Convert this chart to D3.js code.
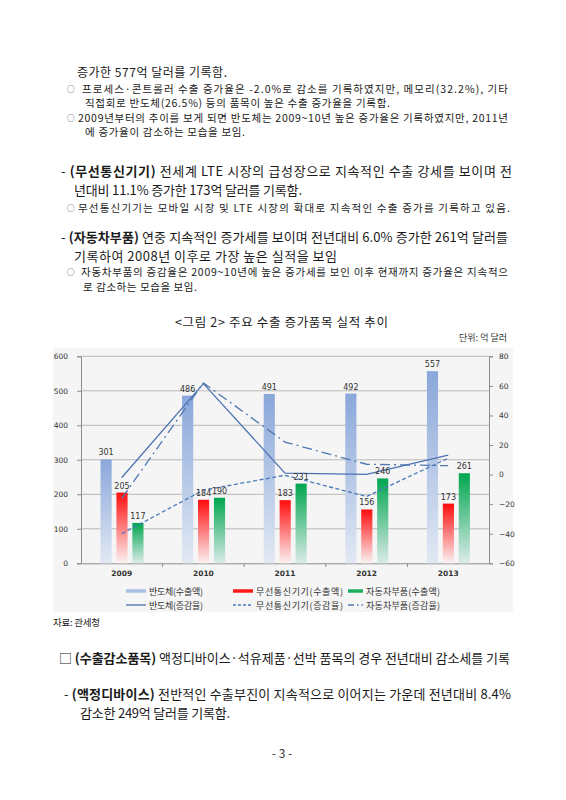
<!DOCTYPE html>
<html>
<head>
<meta charset="utf-8">
<script src="https://cdn.jsdelivr.net/npm/d3@7"></script>
<style>
  body { margin: 0; background: #fff; }
  svg { display: block; }
  text { font-family: "Noto Sans CJK KR", "Noto Sans", sans-serif; }
</style>
</head>
<body>
<svg id="page" width="566" height="800"></svg>
<script>
// 연도 / 수출액 (억 달러) / 증감율 (%)
const years = ["2009", "2010", "2011", "2012", "2013"];
const semiExport = [301, 486, 491, 492, 557];
const wirelessExport = [205, 184, 183, 156, 173];
const autoExport = [117, 190, 231, 246, 261];
const semiGrowth = [-2.0, 61.5, 1.0, 0.2, 13.2];
const wirelessGrowth = [-40.0, -10.5, -0.5, -14.8, 11.1];
const autoGrowth = [-16.0, 62.0, 22.0, 7.0, 6.0];
const leftTicks = [0, 100, 200, 300, 400, 500, 600];
const rightTicks = [-60, -40, -20, 0, 20, 40, 60, 80];

const svg = d3.select("#page");

// 본문 텍스트 (x, y, 글자크기, 줄 끝 x, 글머리)
const lines = [
  { x: 77, y: 77, size: 12, end: 227, parts: [["증가한 577억 달러를 기록함.", 0]] },
  { x: 82, y: 92.5, size: 10.5, end: 508, bullet: 67, parts: [["프로세스·콘트롤러 수출 증가율은 -2.0%로 감소를 기록하였지만, 메모리(32.2%), 기타", 0]] },
  { x: 85, y: 107, size: 10.5, end: 390, parts: [["직접회로 반도체(26.5%) 등의 품목이 높은 수출 증가율을 기록함.", 0]] },
  { x: 78, y: 121.5, size: 10.5, end: 508, bullet: 67, parts: [["2009년부터의 추이를 보게 되면 반도체는 2009~10년 높은 증가율은 기록하였지만, 2011년", 0]] },
  { x: 85, y: 136, size: 10.5, end: 245, parts: [["에 증가율이 감소하는 모습을 보임.", 0]] },
  { x: 61, y: 175.5, size: 13, end: 512, parts: [["- ", 0], ["(무선통신기기)", 1], [" 전세계 LTE 시장의 급성장으로 지속적인 수출 강세를 보이며 전", 0]] },
  { x: 74, y: 194.5, size: 13, end: 302, parts: [["년대비 11.1% 증가한 173억 달러를 기록함.", 0]] },
  { x: 78, y: 212, size: 10.5, end: 510, bullet: 67, parts: [["무선통신기기는 모바일 시장 및 LTE 시장의 확대로 지속적인 수출 증가를 기록하고 있음.", 0]] },
  { x: 61, y: 242, size: 13, end: 508, parts: [["- ", 0], ["(자동차부품)", 1], [" 연중 지속적인 증가세를 보이며 전년대비 6.0% 증가한 261억 달러를", 0]] },
  { x: 74, y: 260.5, size: 13, end: 337, parts: [["기록하여 2008년 이후로 가장 높은 실적을 보임", 0]] },
  { x: 81, y: 276, size: 10.5, end: 508, bullet: 67, parts: [["자동차부품의 증감율은 2009~10년에 높은 증가세를 보인 이후 현재까지 증가율은 지속적으", 0]] },
  { x: 83, y: 290.5, size: 10.5, end: 197, parts: [["로 감소하는 모습을 보임.", 0]] },
  { x: 175, y: 327, size: 12.5, end: 388, parts: [["<그림 2> 주요 수출 증가품목 실적 추이", 0]] },
  { x: 53, y: 626, size: 9.5, end: 100, parts: [["자료: 관세청", 0]] },
  { x: 59, y: 663, size: 13, end: 510, parts: [["□ ", 0], ["(수출감소품목)", 1], [" 액정디바이스·석유제품·선박 품목의 경우 전년대비 감소세를 기록", 0]] },
  { x: 64, y: 699, size: 13, end: 511, parts: [["- ", 0], ["(액정디바이스)", 1], [" 전반적인 수출부진이 지속적으로 이어지는 가운데 전년대비 8.4%", 0]] },
  { x: 80, y: 717.5, size: 13, end: 230, parts: [["감소한 249억 달러를 기록함.", 0]] }
];

lines.forEach(l => {
  if (l.bullet) {
    svg.append("text").attr("x", l.bullet).attr("y", l.y - 1)
      .style("font-size", "7.5px").style("fill", "#1a1a1a").text("○");
  }
  const t = svg.append("text")
    .attr("x", l.x).attr("y", l.y)
    .attr("textLength", l.end - l.x).attr("lengthAdjust", "spacing")
    .style("font-size", l.size + "px")
    .style("fill", "#1a1a1a");
  l.parts.forEach(p => {
    t.append("tspan").text(p[0]).style("font-weight", p[1] ? "bold" : "normal");
  });
});

svg.append("text").attr("x", 507).attr("y", 341).attr("text-anchor", "end")
  .style("font-size", "9px").style("fill", "#333").text("단위: 억 달러");
svg.append("text").attr("x", 282).attr("y", 758).attr("text-anchor", "middle")
  .style("font-size", "12px").style("fill", "#333").text("- 3 -");

// 차트 영역
svg.append("rect").attr("x", 53).attr("y", 348).attr("width", 460).attr("height", 264)
  .attr("fill", "#f5f5f5");

const x = d3.scaleBand().domain(years).range([81, 489]);
const xs = d3.scaleBand().domain([0, 1, 2]).range([19.5, 62.5]).paddingInner(0.3);
const y = d3.scaleLinear().domain([0, 600]).range([563.3, 356.3]);
const y2 = d3.scaleLinear().domain([-60, 80]).range([563.3, 356.3]);

// 그라데이션
const defs = svg.append("defs");
const grads = [
  ["gBlue", "#8aa7da", "#e2e9f4"],
  ["gRed", "#ff0d0d", "#fbf2f2"],
  ["gGreen", "#00a64e", "#dcebea"]
];
grads.forEach(g => {
  const lg = defs.append("linearGradient").attr("id", g[0])
    .attr("x1", "0%").attr("y1", "0%").attr("x2", "0%").attr("y2", "100%");
  lg.append("stop").attr("offset", "0%").attr("stop-color", g[1]);
  lg.append("stop").attr("offset", "100%").attr("stop-color", g[2]);
});

// 눈금선
svg.append("g").selectAll("line").data(leftTicks.slice(1)).join("line")
  .attr("x1", 81).attr("x2", 489)
  .attr("y1", d => y(d)).attr("y2", d => y(d))
  .attr("stroke", "#b8b8b8").attr("stroke-width", 1);

// 축
const axL = svg.append("g").attr("transform", "translate(81,0)")
  .call(d3.axisLeft(y).tickValues(leftTicks).tickSize(4).tickPadding(9));
const axR = svg.append("g").attr("transform", "translate(489,0)")
  .call(d3.axisRight(y2).tickValues(rightTicks).tickSize(4).tickPadding(6));
const axB = svg.append("g").attr("transform", "translate(0,563.3)")
  .call(d3.axisBottom(x).tickSize(0).tickPadding(7));
[axL, axR, axB].forEach(a => {
  a.select(".domain").attr("stroke", "#8c8c8c");
  a.selectAll(".tick line").attr("stroke", "#8c8c8c");
  a.selectAll("text").style("font-family", "'DejaVu Sans', sans-serif")
    .style("font-size", "7.5px").style("fill", "#333");
});
axB.selectAll("text").style("font-weight", "bold");
// 카테고리 경계 눈금
svg.append("g").selectAll("line").data(years.slice(1)).join("line")
  .attr("x1", d => x(d)).attr("x2", d => x(d))
  .attr("y1", 563.3).attr("y2", 567)
  .attr("stroke", "#8c8c8c");

// 막대
const series = [
  { vals: semiExport, fill: "url(#gBlue)" },
  { vals: wirelessExport, fill: "url(#gRed)" },
  { vals: autoExport, fill: "url(#gGreen)" }
];
series.forEach((s, si) => {
  svg.append("g").selectAll("rect").data(years).join("rect")
    .attr("x", d => x(d) + xs(si))
    .attr("width", xs.bandwidth())
    .attr("y", (d, i) => y(s.vals[i]))
    .attr("height", (d, i) => y(0) - y(s.vals[i]))
    .attr("fill", s.fill);
});

// 증감율 선
const lineGen = vals => d3.line()
  .x((d, i) => x(years[i]) + x.bandwidth() / 2)
  .y(d => y2(d))(vals);
const lineSeries = [
  { vals: semiGrowth, dash: null, color: "#4b71b0" },
  { vals: wirelessGrowth, dash: "4,2.5", color: "#4a78b8" },
  { vals: autoGrowth, dash: "10,4,2,4", color: "#5079b4" }
];
lineSeries.forEach(s => {
  svg.append("path").attr("d", lineGen(s.vals))
    .attr("fill", "none").attr("stroke", s.color).attr("stroke-width", 1.3)
    .attr("stroke-dasharray", s.dash);
});

// 데이터 레이블
series.forEach((s, si) => {
  svg.append("g").selectAll("text").data(years).join("text")
    .attr("x", d => x(d) + xs(si) + xs.bandwidth() / 2)
    .attr("y", (d, i) => y(s.vals[i]) - 4)
    .attr("text-anchor", "middle")
    .style("font-family", "'DejaVu Sans', sans-serif")
    .style("font-size", "8px").style("fill", "#333")
    .text((d, i) => s.vals[i]);
});

// 범례
const legend = [
  { x: 126, w: 20, y: 594.5, len: 54, label: "반도체(수출액)", type: "bar", color: "#a9c0e4" },
  { x: 233, w: 20, y: 594.5, len: 87, label: "무선통신기기(수출액)", type: "bar", color: "#ff1a1a" },
  { x: 348, w: 15, y: 594.5, len: 74, label: "자동차부품(수출액)", type: "bar", color: "#1fb05f" },
  { x: 126, w: 20, y: 608.5, len: 54, label: "반도체(증감율)", type: "line", color: "#4b71b0", dash: null },
  { x: 233, w: 20, y: 608.5, len: 87, label: "무선통신기기(증감율)", type: "line", color: "#4a78b8", dash: "3,2" },
  { x: 348, w: 15, y: 608.5, len: 74, label: "자동차부품(증감율)", type: "line", color: "#5079b4", dash: "6,3,1.5,3" }
];
legend.forEach(l => {
  svg.append("line").attr("x1", l.x).attr("x2", l.x + l.w)
    .attr("y1", l.y - 3.5).attr("y2", l.y - 3.5)
    .attr("stroke", l.color).attr("stroke-width", l.type === "bar" ? 3.5 : 1.3)
    .attr("stroke-dasharray", l.dash || null);
  svg.append("text").attr("x", l.x + l.w + 3).attr("y", l.y)
    .attr("textLength", l.len).attr("lengthAdjust", "spacing")
    .style("font-size", "9px").style("fill", "#333").text(l.label);
});
</script>
</body>
</html>
